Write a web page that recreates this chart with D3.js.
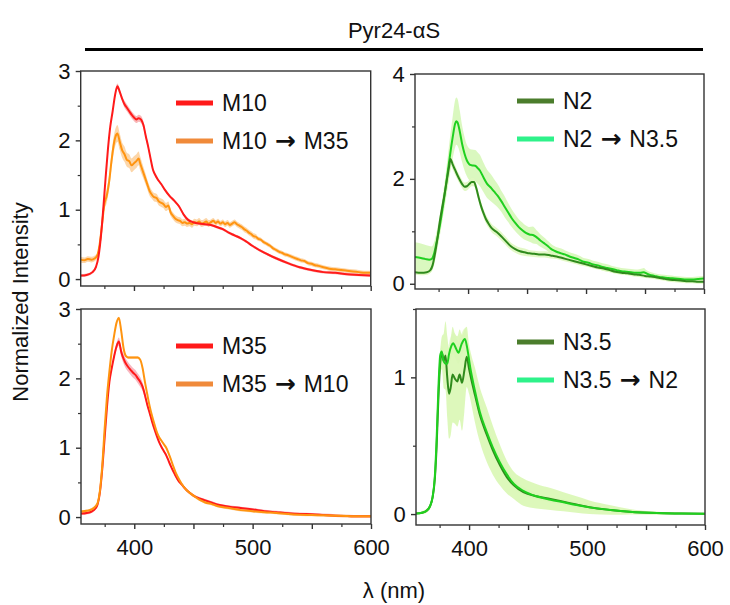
<!DOCTYPE html>
<html>
<head>
<meta charset="utf-8">
<script src="https://cdn.jsdelivr.net/npm/d3@7"></script>
<style>
  html, body { margin: 0; padding: 0; background: #fff; }
  svg { display: block; }
  text { font-family: "Liberation Sans", Arial, sans-serif; fill: #111; }
</style>
</head>
<body>
<svg id="chart" width="730" height="605"></svg>
<script>
// ---- Emission spectra (wavelength in nm, normalized intensity) ----

// Panel A: M10 and M10 -> M35
const wlM10 = [355,360,365,368,370,372,374,376,378,380,382,384,386,388,390,392,394,396,398,400,402,404,406,408,410,412,414,416,418,420,423,426,430,434,438,442,446,450,455,460,465,470,475,480,485,490,495,500,510,520,530,540,550,560,570,580,590,600];
const valM10 = [0.05,0.06,0.10,0.18,0.32,0.60,1.00,1.45,1.87,2.20,2.42,2.65,2.78,2.70,2.60,2.52,2.47,2.42,2.37,2.33,2.30,2.32,2.30,2.22,2.06,1.91,1.74,1.58,1.50,1.44,1.37,1.29,1.20,1.13,1.05,0.93,0.85,0.82,0.80,0.79,0.78,0.75,0.72,0.67,0.63,0.59,0.54,0.48,0.38,0.30,0.23,0.17,0.13,0.10,0.09,0.07,0.06,0.05];
const errM10 = [0.02,0.02,0.02,0.02,0.02,0.02,0.03,0.03,0.03,0.03,0.03,0.04,0.04,0.04,0.04,0.05,0.05,0.05,0.05,0.05,0.05,0.05,0.05,0.05,0.04,0.03,0.03,0.03,0.02,0.02,0.02,0.02,0.02,0.02,0.02,0.02,0.02,0.02,0.02,0.02,0.02,0.02,0.02,0.02,0.02,0.02,0.02,0.02,0.02,0.02,0.02,0.02,0.02,0.02,0.02,0.02,0.02,0.02];

const wlM10toM35 = [355,358,361,364,367,369,371,373,375,377,379,381,383,385,386,388,390,392,394,396,398,400,402,404,405,407,409,411,413,415,417,419,421,423,425,427,429,431,433,435,437,439,441,443,445,447,449,451,453,455,457,459,461,463,465,467,469,471,473,475,477,479,481,483,485,487,489,491,493,495,497,499,501,503,505,507,509,511,513,515,517,519,521,523,525,527,529,532,535,538,541,544,547,550,553,556,560,565,570,575,580,585,590,595,600];
const valM10toM35 = [0.28,0.27,0.29,0.28,0.30,0.34,0.50,0.78,1.08,1.20,1.40,1.70,1.95,2.08,2.10,1.98,1.86,1.80,1.72,1.70,1.64,1.67,1.70,1.74,1.68,1.58,1.48,1.38,1.28,1.22,1.18,1.17,1.12,1.10,1.08,1.04,1.06,0.96,0.91,0.87,0.85,0.84,0.81,0.82,0.80,0.81,0.79,0.82,0.81,0.83,0.80,0.81,0.83,0.80,0.82,0.84,0.81,0.83,0.80,0.82,0.79,0.81,0.78,0.80,0.82,0.79,0.77,0.75,0.72,0.70,0.67,0.65,0.62,0.61,0.58,0.57,0.54,0.52,0.50,0.48,0.45,0.43,0.41,0.39,0.38,0.36,0.35,0.33,0.31,0.29,0.27,0.26,0.23,0.22,0.20,0.19,0.17,0.15,0.14,0.13,0.12,0.11,0.10,0.09,0.09];
const errM10toM35 = [0.04,0.04,0.04,0.04,0.04,0.04,0.05,0.06,0.08,0.10,0.10,0.11,0.12,0.12,0.12,0.12,0.11,0.11,0.10,0.10,0.10,0.10,0.10,0.10,0.10,0.09,0.08,0.07,0.07,0.06,0.06,0.06,0.06,0.06,0.06,0.06,0.06,0.05,0.05,0.05,0.05,0.05,0.05,0.05,0.05,0.05,0.05,0.05,0.05,0.05,0.05,0.05,0.05,0.05,0.04,0.04,0.04,0.04,0.04,0.04,0.04,0.04,0.04,0.04,0.04,0.04,0.04,0.04,0.04,0.04,0.04,0.04,0.04,0.04,0.03,0.03,0.03,0.03,0.03,0.03,0.03,0.03,0.03,0.03,0.03,0.03,0.03,0.03,0.03,0.03,0.03,0.03,0.03,0.03,0.03,0.03,0.03,0.03,0.03,0.03,0.03,0.03,0.03,0.03,0.03];

// Panel B: N2 and N2 -> N3.5
const wlN2 = [355,360,365,368,370,372,374,376,378,380,382,384,385,387,389,391,393,395,397,399,401,403,405,407,409,411,413,415,417,420,424,427,430,433,436,440,444,448,452,456,460,465,470,475,480,485,490,495,500,505,510,515,520,525,530,535,540,545,550,555,560,565,570,575,580,585,590,595,600];
const valN2 = [0.22,0.21,0.22,0.26,0.36,0.58,0.86,1.18,1.45,1.70,1.98,2.25,2.38,2.27,2.17,2.07,1.98,1.90,1.85,1.86,1.90,1.94,1.94,1.82,1.64,1.48,1.35,1.24,1.16,1.06,0.99,0.93,0.86,0.79,0.72,0.66,0.62,0.60,0.58,0.57,0.56,0.56,0.54,0.52,0.49,0.46,0.43,0.40,0.37,0.34,0.31,0.29,0.26,0.23,0.21,0.20,0.18,0.17,0.15,0.14,0.12,0.10,0.08,0.07,0.06,0.05,0.05,0.04,0.04];
const errN2 = [0.05,0.05,0.05,0.05,0.06,0.07,0.08,0.08,0.08,0.08,0.08,0.09,0.09,0.09,0.09,0.08,0.08,0.08,0.08,0.08,0.08,0.08,0.08,0.08,0.08,0.08,0.08,0.08,0.08,0.08,0.08,0.08,0.08,0.08,0.07,0.07,0.07,0.07,0.06,0.06,0.06,0.06,0.06,0.05,0.05,0.05,0.05,0.05,0.04,0.04,0.04,0.04,0.04,0.04,0.04,0.04,0.04,0.04,0.04,0.04,0.04,0.04,0.04,0.04,0.04,0.04,0.04,0.04,0.04];

const wlN2toN35 = [355,360,364,367,369,371,373,375,377,379,381,383,385,387,389,390,391,393,395,397,399,401,403,406,408,410,413,416,419,422,425,428,431,434,437,440,443,446,449,452,455,458,461,464,467,470,473,476,479,482,486,490,494,498,502,506,510,514,518,522,526,530,534,538,542,546,549,551,554,558,562,566,570,575,580,585,590,595,600];
const valN2toN35 = [0.51,0.49,0.47,0.46,0.47,0.56,0.76,0.98,1.24,1.53,1.84,2.17,2.50,2.80,3.05,3.10,3.08,2.90,2.66,2.48,2.35,2.28,2.26,2.25,2.21,2.16,2.03,1.91,1.84,1.76,1.68,1.58,1.47,1.36,1.25,1.16,1.08,1.02,0.97,0.94,0.93,0.89,0.83,0.78,0.73,0.67,0.63,0.60,0.58,0.56,0.52,0.49,0.46,0.42,0.40,0.37,0.35,0.32,0.30,0.28,0.26,0.24,0.23,0.22,0.21,0.21,0.22,0.20,0.17,0.15,0.13,0.12,0.11,0.10,0.09,0.08,0.08,0.09,0.10];
const errN2toN35 = [0.28,0.28,0.27,0.26,0.24,0.22,0.20,0.20,0.20,0.22,0.25,0.30,0.35,0.40,0.45,0.45,0.45,0.40,0.35,0.32,0.30,0.30,0.30,0.30,0.30,0.30,0.28,0.27,0.26,0.24,0.22,0.20,0.20,0.18,0.17,0.16,0.15,0.15,0.14,0.14,0.16,0.13,0.12,0.11,0.10,0.10,0.09,0.09,0.09,0.08,0.08,0.08,0.08,0.07,0.07,0.07,0.07,0.07,0.07,0.06,0.06,0.06,0.06,0.06,0.06,0.07,0.08,0.06,0.06,0.05,0.05,0.05,0.05,0.05,0.05,0.05,0.05,0.05,0.05];

// Panel C: M35 and M35 -> M10
const wlM35 = [355,360,364,367,369,371,373,375,377,379,381,383,385,387,389,391,393,395,397,399,401,403,405,407,409,411,413,415,417,419,421,423,425,427,429,431,433,435,437,440,443,446,450,455,460,465,470,480,490,500,510,520,530,540,550,560,570,580,590,600];
const valM35 = [0.05,0.06,0.08,0.12,0.18,0.36,0.70,1.15,1.60,1.95,2.15,2.32,2.46,2.53,2.38,2.28,2.21,2.16,2.12,2.08,2.05,2.00,1.95,1.88,1.76,1.62,1.50,1.38,1.27,1.17,1.08,1.01,0.95,0.89,0.81,0.73,0.66,0.59,0.53,0.47,0.41,0.36,0.31,0.27,0.24,0.21,0.18,0.15,0.13,0.11,0.085,0.07,0.055,0.045,0.04,0.03,0.02,0.015,0.01,0.01];
const errM35 = [0.02,0.02,0.02,0.02,0.02,0.02,0.02,0.03,0.03,0.03,0.03,0.04,0.05,0.06,0.07,0.07,0.07,0.07,0.07,0.07,0.07,0.07,0.07,0.06,0.05,0.04,0.03,0.03,0.02,0.02,0.02,0.02,0.02,0.02,0.02,0.02,0.02,0.02,0.02,0.02,0.02,0.02,0.02,0.02,0.02,0.02,0.02,0.02,0.02,0.02,0.02,0.02,0.02,0.02,0.02,0.02,0.02,0.02,0.02,0.02];

const wlM35toM10 = [355,360,364,367,369,371,373,375,377,379,381,383,385,387,389,391,393,395,397,399,401,403,405,407,409,411,413,415,417,419,421,423,425,427,429,431,433,435,437,440,443,446,450,455,460,465,470,480,490,500,510,520,530,540,550,560,570,580,590,600];
const valM35toM10 = [0.08,0.09,0.11,0.15,0.20,0.38,0.75,1.28,1.75,2.10,2.40,2.62,2.80,2.87,2.68,2.43,2.32,2.30,2.30,2.30,2.30,2.30,2.27,2.15,1.95,1.77,1.60,1.46,1.34,1.23,1.15,1.10,1.05,1.00,0.92,0.83,0.73,0.64,0.57,0.48,0.41,0.36,0.31,0.25,0.21,0.19,0.16,0.13,0.10,0.085,0.07,0.06,0.045,0.035,0.03,0.025,0.02,0.015,0.01,0.01];
const errM35toM10 = [0.02,0.02,0.02,0.02,0.02,0.02,0.02,0.02,0.02,0.02,0.02,0.02,0.02,0.02,0.02,0.02,0.02,0.02,0.02,0.02,0.02,0.02,0.02,0.02,0.02,0.02,0.02,0.02,0.02,0.02,0.02,0.02,0.02,0.02,0.02,0.02,0.02,0.02,0.02,0.02,0.02,0.02,0.02,0.02,0.02,0.02,0.02,0.02,0.02,0.02,0.02,0.02,0.02,0.02,0.02,0.02,0.02,0.02,0.02,0.02];

// Panel D: N3.5 and N3.5 -> N2
const wlN35 = [355,360,364,367,369,371,372.5,374,375.5,377,378.5,380,381.5,383,384.5,386,388,390,392,394,396,398,400,402,405,409,415,420,426,432,438,446,457,469,480,491,502,520,536,559,580,600];
const valN35 = [0.005,0.01,0.025,0.06,0.12,0.26,0.50,0.85,1.10,1.18,1.12,1.16,1.00,0.88,0.93,1.02,0.99,0.97,1.02,0.96,1.05,1.15,1.06,0.98,0.87,0.73,0.58,0.47,0.36,0.27,0.21,0.16,0.13,0.11,0.09,0.07,0.05,0.03,0.017,0.007,0.004,0.002];
const errN35 = [0.005,0.01,0.015,0.02,0.03,0.04,0.05,0.06,0.08,0.12,0.20,0.25,0.30,0.33,0.35,0.35,0.33,0.33,0.33,0.35,0.30,0.22,0.18,0.18,0.20,0.20,0.20,0.18,0.15,0.12,0.10,0.10,0.09,0.08,0.07,0.06,0.05,0.035,0.02,0.01,0.005,0.004];

const wlN35toN2 = [355,360,364,367,369,371,372.5,374,375.5,376.8,378,380,381.5,383,385,386.5,389,391,393.5,396.5,398.5,401,405,409,415,420,426,432,438,446,457,469,480,491,502,520,536,559,580,600];
const valN35toN2 = [0.005,0.01,0.025,0.06,0.12,0.28,0.55,0.92,1.16,1.19,1.13,1.10,1.10,1.17,1.23,1.25,1.21,1.18,1.24,1.28,1.21,1.07,0.90,0.75,0.60,0.49,0.38,0.29,0.22,0.17,0.13,0.105,0.086,0.066,0.049,0.03,0.017,0.007,0.004,0.002];
const errN35toN2 = [0.005,0.005,0.01,0.01,0.01,0.02,0.02,0.03,0.03,0.04,0.05,0.06,0.07,0.08,0.08,0.08,0.08,0.08,0.08,0.08,0.07,0.06,0.05,0.05,0.05,0.04,0.04,0.03,0.03,0.03,0.02,0.02,0.02,0.02,0.02,0.01,0.01,0.01,0.005,0.005];

// Axis ticks and text
const xDomain = [355, 600];
const xMajorTicks = [400, 450, 500, 550, 600];
const xMinorTicks = [375, 425, 475, 525, 575];
const xTickLabels = [400, 500, 600];
const titleText = "Pyr24-αS";
const xAxisTitle = "λ (nm)";
const yAxisTitle = "Normalized Intensity";

// Colours
const cRed = "#ff1a1a", cOrange = "#ff9410", cDark = "#2f8a1c", cBright = "#1fd01f";
const legRed = "#ff1a1a", legOrange = "#f08a3a", legDark = "#4b7d2c", legBright = "#2ef28a";

// Build panel descriptions from the arrays above
const pack = (wl, v, e) => wl.map((w, i) => ({ x: w, y: v[i], e: e[i] }));

const panels = [
  { box: [80.7, 370.7, 71, 286], xLabels: false, yDomain: [-0.1, 3], yMajor: [0, 1, 2, 3], yMinor: [0.5, 1.5, 2.5], yLabels: [0, 1, 2, 3],
    legend: [176, 103], legendColors: [legRed, legOrange], names: [["M10"], ["M10", "M35"]],
    series: [
      { data: pack(wlM10toM35, valM10toM35, errM10toM35), color: cOrange, band: "#fbcf9a", bandOpacity: 0.85 },
      { data: pack(wlM10, valM10, errM10), color: cRed, band: "#f7a5a5", bandOpacity: 0.8 }
    ] },
  { box: [415, 704, 74, 289], xLabels: false, yDomain: [-0.1, 4], yMajor: [0, 2, 4], yMinor: [1, 3], yLabels: [0, 2, 4],
    legend: [517, 101], legendColors: [legDark, legBright], names: [["N2"], ["N2", "N3.5"]],
    series: [
      { data: pack(wlN2toN35, valN2toN35, errN2toN35), color: cBright, band: "#d6f7b8", bandOpacity: 0.9 },
      { data: pack(wlN2, valN2, errN2), color: cDark, band: "#dff7c0", bandOpacity: 0.9 }
    ] },
  { box: [81, 371, 309, 524], xLabels: true, yDomain: [-0.1, 3], yMajor: [0, 1, 2, 3], yMinor: [0.5, 1.5, 2.5], yLabels: [0, 1, 2, 3],
    legend: [176, 346], legendColors: [legRed, legOrange], names: [["M35"], ["M35", "M10"]],
    series: [
      { data: pack(wlM35, valM35, errM35), color: cRed, band: "#f7a5b0", bandOpacity: 0.8 },
      { data: pack(wlM35toM10, valM35toM10, errM35toM10), color: cOrange, band: "#fbcf9a", bandOpacity: 0.8 }
    ] },
  { box: [416, 705, 309, 525], xLabels: true, yDomain: [-0.08, 1.5], yMajor: [0, 1], yMinor: [0.5, 1.5], yLabels: [0, 1],
    legend: [517, 342], legendColors: [legDark, legBright], names: [["N3.5"], ["N3.5", "N2"]],
    series: [
      { data: pack(wlN35, valN35, errN35), color: cDark, band: "#d9f7b4", bandOpacity: 0.9 },
      { data: pack(wlN35toN2, valN35toN2, errN35toN2), color: cBright, band: "#d9f7b4", bandOpacity: 0.6 }
    ] }
];

const svg = d3.select("#chart");

panels.forEach((p, pi) => {
  const [x0, x1, y0, y1] = p.box;
  const x = d3.scaleLinear().domain(xDomain).range([x0, x1]);
  const y = d3.scaleLinear().domain(p.yDomain).range([y1, y0]);
  const g = svg.append("g");

  const clipId = "clip" + pi;
  g.append("clipPath").attr("id", clipId)
    .append("rect").attr("x", x0).attr("y", y0).attr("width", x1 - x0).attr("height", y1 - y0);
  const plot = g.append("g").attr("clip-path", `url(#${clipId})`);

  const area = d3.area().x(d => x(d.x)).y0(d => y(d.y - d.e)).y1(d => y(d.y + d.e)).curve(d3.curveMonotoneX);
  const line = d3.line().x(d => x(d.x)).y(d => y(d.y)).curve(d3.curveMonotoneX);

  p.series.forEach(s => {
    plot.append("path").datum(s.data).attr("d", area)
      .attr("fill", s.band).attr("fill-opacity", s.bandOpacity).attr("stroke", "none");
  });
  p.series.forEach(s => {
    plot.append("path").datum(s.data).attr("d", line)
      .attr("fill", "none").attr("stroke", s.color).attr("stroke-width", 2).attr("stroke-linejoin", "round");
  });

  // frame
  g.append("rect").attr("x", x0).attr("y", y0).attr("width", x1 - x0).attr("height", y1 - y0)
    .attr("fill", "none").attr("stroke", "#333").attr("stroke-width", 1.4);

  // x axis ticks (bottom, outward); numbers only on the lower row
  const xAxisMajor = d3.axisBottom(x).tickValues(xMajorTicks).tickSize(5)
    .tickFormat(d => (p.xLabels && xTickLabels.includes(d)) ? d : "");
  const gx = g.append("g").attr("transform", `translate(0,${y1})`).call(xAxisMajor);
  gx.select(".domain").remove();
  gx.selectAll(".tick line").attr("stroke", "#333").attr("stroke-width", 1.4);
  gx.selectAll(".tick text").attr("font-size", 22).attr("dy", "1.05em")
    .attr("font-family", "'Liberation Sans', Arial, sans-serif").attr("fill", "#111");
  const gxm = g.append("g").attr("transform", `translate(0,${y1})`)
    .call(d3.axisBottom(x).tickValues(xMinorTicks).tickSize(3).tickFormat(""));
  gxm.select(".domain").remove();
  gxm.selectAll(".tick line").attr("stroke", "#333").attr("stroke-width", 1.2);

  // y axis ticks (left, outward)
  const yAxisMajor = d3.axisLeft(y).tickValues(p.yMajor).tickSize(5)
    .tickFormat(d => p.yLabels.includes(d) ? d : "");
  const gy = g.append("g").attr("transform", `translate(${x0},0)`).call(yAxisMajor);
  gy.select(".domain").remove();
  gy.selectAll(".tick line").attr("stroke", "#333").attr("stroke-width", 1.4);
  gy.selectAll(".tick text").attr("font-size", 22).attr("dx", "-0.1em")
    .attr("font-family", "'Liberation Sans', Arial, sans-serif").attr("fill", "#111");
  const gym = g.append("g").attr("transform", `translate(${x0},0)`)
    .call(d3.axisLeft(y).tickValues(p.yMinor).tickSize(3).tickFormat(""));
  gym.select(".domain").remove();
  gym.selectAll(".tick line").attr("stroke", "#333").attr("stroke-width", 1.2);

  // legend; a two-part name is shown as "from → to"
  const [lx, ly] = p.legend;
  p.names.forEach((parts, i) => {
    const yy = ly + i * 38;
    g.append("line").attr("x1", lx).attr("x2", lx + 37).attr("y1", yy).attr("y2", yy)
      .attr("stroke", p.legendColors[i]).attr("stroke-width", 5);
    const t = g.append("text").attr("x", lx + 46).attr("y", yy).attr("dy", "0.36em")
      .attr("font-size", 23);
    t.append("tspan").text(parts[0]);
    if (parts.length > 1) {
      t.append("tspan").attr("font-family", "'DejaVu Sans', sans-serif").attr("font-size", 25)
        .attr("font-weight", "bold").attr("dx", 8).text("→");
      t.append("tspan").attr("dx", 8).text(parts[1]);
    }
  });
});

// Title with rule
svg.append("text").attr("x", 394).attr("y", 38).attr("text-anchor", "middle")
  .attr("font-size", 22).text(titleText);
svg.append("line").attr("x1", 85).attr("x2", 703).attr("y1", 49.5).attr("y2", 49.5)
  .attr("stroke", "#000").attr("stroke-width", 3);

// Axis titles
svg.append("text").attr("x", 394).attr("y", 598).attr("text-anchor", "middle")
  .attr("font-size", 22).text(xAxisTitle);
svg.append("text").attr("transform", "translate(28,302) rotate(-90)").attr("text-anchor", "middle")
  .attr("font-size", 22).text(yAxisTitle);
</script>
</body>
</html>
